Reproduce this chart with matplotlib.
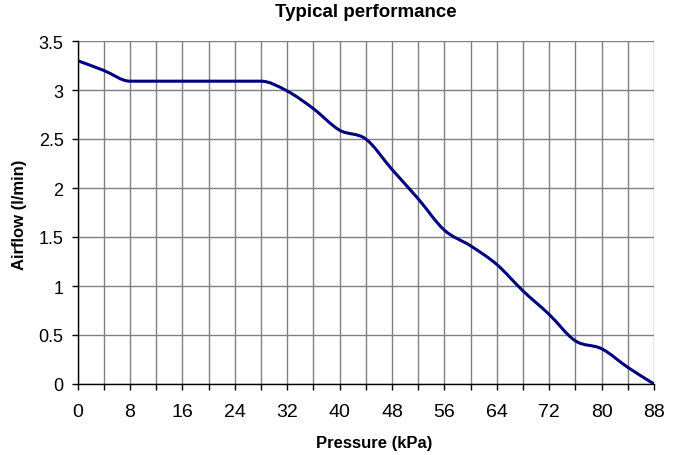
import matplotlib
matplotlib.use("Agg")
import matplotlib.pyplot as plt
from matplotlib.path import Path
from matplotlib.patches import PathPatch
import numpy as np

plt.rcParams['font.family'] = ['Liberation Sans', 'DejaVu Sans']

pressure = [0, 4, 8, 12, 16, 20, 24, 28, 32, 36, 40, 44, 48, 52, 56, 60, 64, 68, 72, 76, 80, 84, 88]
airflow = [3.30, 3.20, 3.09, 3.09, 3.09, 3.09, 3.09, 3.09, 2.99, 2.81, 2.59, 2.50, 2.19, 1.89,
           1.57, 1.41, 1.22, 0.95, 0.71, 0.44, 0.36, 0.17, 0.0]
x_ticks = [0, 8, 16, 24, 32, 40, 48, 56, 64, 72, 80, 88]
y_ticks = [0, 0.5, 1, 1.5, 2, 2.5, 3, 3.5]
y_tick_labels = ['0', '0.5', '1', '1.5', '2', '2.5', '3', '3.5']

W, H = 676, 456
L, R, T, B = 77.5, 654, 42, 385
fig = plt.figure(figsize=(W / 100, H / 100), dpi=100)
ax = fig.add_axes([L / W, 1 - B / H, (R - L) / W, (B - T) / H])

# smoothed line through the data points (monotone cubic Bezier segments)
xs = np.array(pressure, float)
ys = np.array(airflow, float)
n = len(xs)
d = np.diff(ys) / np.diff(xs)
m = np.zeros(n)
m[0], m[-1] = d[0], d[-1]
for k in range(1, n - 1):
    if d[k - 1] * d[k] <= 0:
        m[k] = 0.0
    else:
        m[k] = (ys[k + 1] - ys[k - 1]) / (xs[k + 1] - xs[k - 1])
        lim = 3 * min(abs(d[k - 1]), abs(d[k]))
        m[k] = np.sign(m[k]) * min(abs(m[k]), lim)
verts = [(xs[0], ys[0])]
codes = [Path.MOVETO]
for k in range(n - 1):
    h = xs[k + 1] - xs[k]
    verts += [(xs[k] + h / 3, ys[k] + m[k] * h / 3),
              (xs[k + 1] - h / 3, ys[k + 1] - m[k + 1] * h / 3),
              (xs[k + 1], ys[k + 1])]
    codes += [Path.CURVE4] * 3
ax.add_patch(PathPatch(Path(verts, codes), facecolor='none', edgecolor='#000080', lw=2.2,
                       zorder=3, capstyle='round', joinstyle='round'))

ax.set_xlim(0, 88)
ax.set_ylim(0, 3.5)
ax.set_xticks(x_ticks)
ax.set_xticks(pressure, minor=True)
ax.set_yticks(y_ticks)
ax.set_yticklabels(y_tick_labels)
ax.grid(True, which='both', axis='x', color='#808080', lw=1.0, zorder=1)
ax.grid(True, which='major', axis='y', color='#808080', lw=1.0, zorder=1)
for s in ['top', 'right']:
    ax.spines[s].set_visible(False)
for s in ['left', 'bottom']:
    ax.spines[s].set_color('black')
    ax.spines[s].set_linewidth(1.0)
    ax.spines[s].set_zorder(4)
ax.tick_params(axis='both', which='both', direction='out', length=4, width=1, color='black')
ax.tick_params(axis='x', which='major', labelsize=14, pad=10)
ax.tick_params(axis='y', labelsize=13, pad=6)

ax.set_title('Typical performance', fontsize=13.5, fontweight='bold', pad=18)
ax.set_xlabel('Pressure (kPa)', fontsize=12, fontweight='bold')
ax.xaxis.label.set_va('baseline')
ax.xaxis.set_label_coords((374 - L) / (R - L), (B - 448) / (B - T))
ax.set_ylabel('Airflow (l/min)', fontsize=12, fontweight='bold')
ax.yaxis.label.set_va('center')
ax.yaxis.label.set_ha('center')
ax.yaxis.set_label_coords((20 - L) / (R - L), 1 - (215 - T) / (B - T))

fig.savefig('out.png', dpi=100)
